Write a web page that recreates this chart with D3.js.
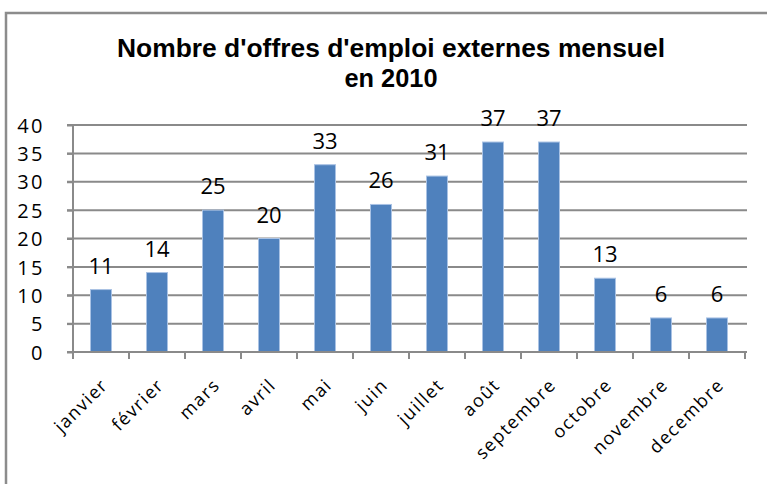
<!DOCTYPE html>
<html><head><meta charset="utf-8">
<script src="https://cdn.jsdelivr.net/npm/d3@7"></script>
<style>
html,body{margin:0;padding:0;background:#fff;}
svg{display:block;}
</style></head>
<body>
<svg id="chart" width="767" height="484"></svg>
<script>
const months = ["janvier","février","mars","avril","mai","juin","juillet","août","septembre","octobre","novembre","decembre"];
const values = [11,14,25,20,33,26,31,37,37,13,6,6];
const yTicks = [0,5,10,15,20,25,30,35,40];
const titleLines = ["Nombre d'offres d'emploi externes mensuel","en 2010"];

const svg = d3.select("#chart");
const pLeft = 73, pRight = 745, pTop = 125, pBottom = 352;

// outer border
svg.append("path")
  .attr("d", "M6,484 L6,13 L767,13")
  .attr("fill","none").attr("stroke","#8c8c8c").attr("stroke-width",2.5);

const x = d3.scaleBand().domain(months).range([pLeft,pRight]).paddingInner(0.625).paddingOuter(0.3125);
const y = d3.scaleLinear().domain([0,40]).range([pBottom,pTop]);

// gridlines
svg.append("g").selectAll("line").data(yTicks.filter(d=>d>0)).join("line")
  .attr("x1", pLeft-6).attr("x2", pRight+2)
  .attr("y1", d=>y(d)).attr("y2", d=>y(d))
  .attr("stroke","#8a8a8a").attr("stroke-width",2);

// y axis
const yAxis = d3.axisLeft(y).tickValues(yTicks).tickSize(6).tickPadding(22);
const gy = svg.append("g").attr("transform",`translate(${pLeft},0)`).call(yAxis);
gy.select(".domain").attr("stroke","#8a8a8a").attr("stroke-width",2).attr("d",`M0,${pTop}V${pBottom}`);
gy.selectAll(".tick line").attr("stroke","#8a8a8a").attr("stroke-width",2);
gy.selectAll(".tick text").attr("font-family","'Open Sans', 'Noto Sans', sans-serif")
  .attr("font-size",20).attr("fill","#000").attr("letter-spacing","2.5px").attr("dy","0.36em");

// bars
svg.append("g").selectAll("rect").data(values).join("rect")
  .attr("x",(d,i)=>x(months[i])).attr("width",x.bandwidth())
  .attr("y",d=>y(d)).attr("height",d=>pBottom-y(d))
  .attr("fill","#4f81bd").attr("stroke","#a9c2e4").attr("stroke-width",1);

// x axis
const xAxis = d3.axisBottom(x).tickSize(0).tickFormat(d=>d);
const gx = svg.append("g").attr("transform",`translate(0,${pBottom})`).call(xAxis);
gx.select(".domain").remove();
svg.append("line").attr("x1",pLeft-6).attr("x2",pRight+2).attr("y1",pBottom).attr("y2",pBottom)
  .attr("stroke","#8a8a8a").attr("stroke-width",2);
// category boundary ticks
const bounds = d3.range(months.length+1).map(i=>pLeft + i*x.step());
svg.append("g").selectAll("line").data(bounds).join("line")
  .attr("x1",d=>d).attr("x2",d=>d).attr("y1",pBottom).attr("y2",pBottom+7)
  .attr("stroke","#8a8a8a").attr("stroke-width",2);
gx.selectAll(".tick text")
  .attr("font-family","'Open Sans', 'Noto Sans', sans-serif").attr("font-size",18).attr("fill","#000")
  .attr("letter-spacing","1.5px")
  .attr("text-anchor","end").attr("dy","0")
  .attr("transform","translate(6,32) rotate(-45)");

// data labels
svg.append("g").selectAll("text").data(values).join("text")
  .attr("x",(d,i)=>x(months[i])+x.bandwidth()/2)
  .attr("y",d=>y(d)-16)
  .attr("text-anchor","middle")
  .attr("font-family","'Open Sans', 'Noto Sans', sans-serif").attr("font-size",22).attr("fill","#000")
  .text(d=>d);

// title
const tt = svg.append("g").attr("font-family","'Liberation Sans Narrow', 'Arial Narrow', 'Liberation Sans', Arial, sans-serif")
  .attr("font-weight","bold").attr("font-size",25).attr("fill","#000").attr("text-anchor","middle");
tt.append("text").attr("x",391).attr("y",57).text(titleLines[0]).attr("textLength",548).attr("lengthAdjust","spacingAndGlyphs");
tt.append("text").attr("x",391).attr("y",87).text(titleLines[1]).attr("textLength",93).attr("lengthAdjust","spacingAndGlyphs");
</script>
</body></html>
